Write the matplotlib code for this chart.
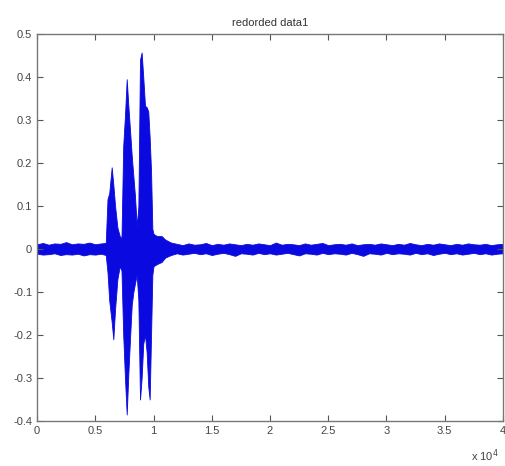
import numpy as np
import matplotlib
matplotlib.use("Agg")
import matplotlib.pyplot as plt

# sample index (x 10^4) and upper / lower envelope
burst_x = [0.0, 0.05, 0.1, 0.15, 0.2, 0.25, 0.3, 0.35, 0.4, 0.45, 0.5, 0.55, 0.59,
           0.605, 0.62, 0.641, 0.655, 0.67, 0.69, 0.71, 0.725,
           0.74, 0.755, 0.77, 0.784, 0.80, 0.813, 0.827, 0.841, 0.856,
           0.87, 0.884, 0.898, 0.912, 0.927, 0.941, 0.955, 0.967, 0.979, 0.99,
           1.0, 1.03, 1.07, 1.1, 1.15]
burst_hi = [0.011, 0.014, 0.010, 0.013, 0.012, 0.016, 0.011, 0.013, 0.012, 0.015, 0.011,
            0.013, 0.014,
            0.116, 0.13, 0.19, 0.15, 0.10, 0.05, 0.03, 0.025,
            0.24, 0.31, 0.395, 0.333, 0.27, 0.217, 0.17, 0.123, 0.053,
            0.10, 0.44, 0.457, 0.40, 0.333, 0.33, 0.32, 0.26, 0.18, 0.047,
            0.035, 0.03, 0.03, 0.022, 0.015]
burst_lo = [-0.011, -0.013, -0.012, -0.010, -0.014, -0.012, -0.013, -0.011, -0.015,
            -0.012, -0.013, -0.011, -0.014,
            -0.054, -0.12, -0.17, -0.21, -0.14, -0.07, -0.04, -0.05,
            -0.20, -0.30, -0.385, -0.29, -0.20, -0.13, -0.10, -0.08, -0.06,
            -0.12, -0.35, -0.30, -0.22, -0.20, -0.24, -0.32, -0.35, -0.20, -0.06,
            -0.04, -0.035, -0.03, -0.02, -0.014]

noise_x = [1.2, 1.25, 1.3, 1.35, 1.4, 1.45, 1.5, 1.55, 1.6, 1.65, 1.7, 1.75, 1.8, 1.85,
           1.9, 1.95, 2.0, 2.05, 2.1, 2.15, 2.2, 2.25, 2.3, 2.35, 2.4, 2.45, 2.5, 2.55,
           2.6, 2.65, 2.7, 2.75, 2.8, 2.85, 2.9, 2.95, 3.0, 3.05, 3.1, 3.15, 3.2, 3.25,
           3.3, 3.35, 3.4, 3.45, 3.5, 3.55, 3.6, 3.65, 3.7, 3.75, 3.8, 3.85, 3.9, 3.95,
           4.0]
noise_hi = [0.012, 0.009, 0.013, 0.010, 0.011, 0.014, 0.009, 0.012, 0.010, 0.013, 0.011,
            0.009, 0.012, 0.010, 0.013, 0.011, 0.009, 0.015, 0.010, 0.012, 0.011, 0.009,
            0.013, 0.010, 0.012, 0.014, 0.009, 0.011, 0.012, 0.010, 0.013, 0.009, 0.011,
            0.012, 0.010, 0.013, 0.011, 0.009, 0.012, 0.010, 0.014, 0.011, 0.009, 0.012,
            0.010, 0.013, 0.011, 0.009, 0.012, 0.010, 0.013, 0.011, 0.010, 0.012, 0.009,
            0.011, 0.012]
noise_lo = [-0.010, -0.013, -0.011, -0.009, -0.012, -0.010, -0.014, -0.011, -0.009,
            -0.012, -0.016, -0.010, -0.011, -0.013, -0.009, -0.012, -0.010, -0.013,
            -0.011, -0.009, -0.012, -0.015, -0.010, -0.011, -0.013, -0.009, -0.012,
            -0.010, -0.011, -0.013, -0.009, -0.012, -0.016, -0.010, -0.011, -0.013,
            -0.009, -0.012, -0.010, -0.011, -0.013, -0.009, -0.012, -0.010, -0.014,
            -0.011, -0.009, -0.012, -0.010, -0.013, -0.011, -0.009, -0.012, -0.010,
            -0.013, -0.011, -0.010]

xs = np.array(burst_x + noise_x)
hi = np.array(burst_hi + noise_hi)
lo = np.array(burst_lo + noise_lo)

plt.rcParams["font.family"] = ["Liberation Sans", "DejaVu Sans"]

fig = plt.figure(figsize=(5.05, 4.66), dpi=100)
ax = fig.add_axes([0.0733, 0.0966, 0.9227, 0.8304])

blue = "#0a0ae0"
ax.fill_between(xs, lo, hi, color=blue, linewidth=0.6, edgecolor=blue)

ax.set_xlim(0, 4)
ax.set_ylim(-0.4, 0.5)
ax.set_xticks(np.arange(0, 4.01, 0.5))
ax.set_xticklabels(["0", "0.5", "1", "1.5", "2", "2.5", "3", "3.5", "4"])
ax.set_yticks(np.arange(-0.4, 0.51, 0.1))
ax.set_yticklabels(["-0.4", "-0.3", "-0.2", "-0.1", "0", "0.1", "0.2", "0.3", "0.4", "0.5"])
ax.tick_params(direction="in", top=True, right=True, length=4, width=0.8,
               colors="#555555", labelsize=8, labelcolor="#444444")
for sp in ax.spines.values():
    sp.set_color("#777777")
    sp.set_linewidth(1.0)

ax.set_title("redorded data1", fontsize=8, color="#333333", pad=6)
fig.text(0.96, 0.012, r"x 10$^4$", fontsize=8, color="#444444", ha="center")

fig.savefig("out.png", dpi=100)
